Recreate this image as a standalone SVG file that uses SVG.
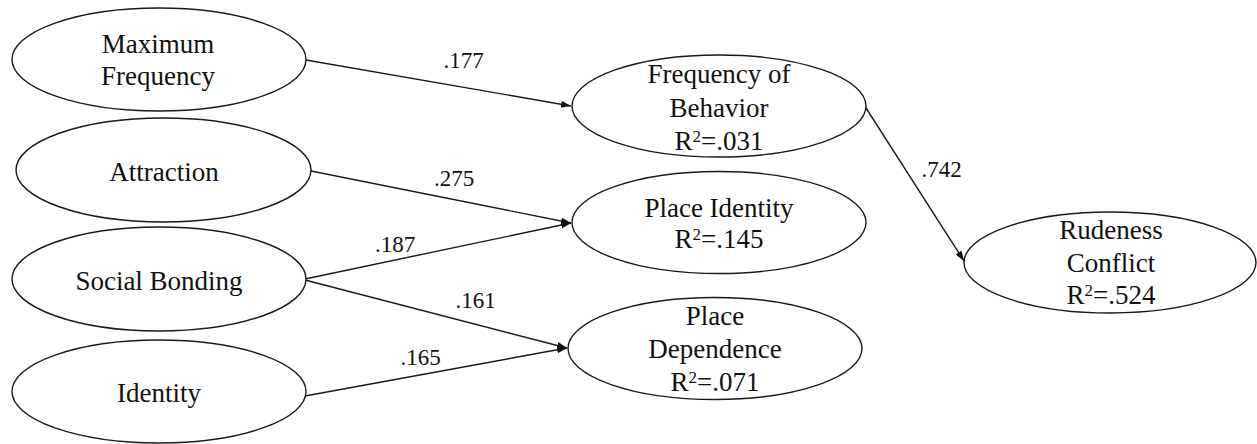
<svg xmlns="http://www.w3.org/2000/svg" width="1257" height="444" viewBox="0 0 1257 444">
<style>
.node ellipse{fill:#fff;stroke:#1a1a1a;stroke-width:1.4}
.node text{font-family:"Liberation Serif","Times New Roman",serif;font-size:27px;fill:#111;text-anchor:middle}
.sup{font-size:17px}
#connectors line{stroke:#1a1a1a;stroke-width:1.4;marker-end:url(#arr)}
.lbl{font-family:"Liberation Serif","Times New Roman",serif;font-size:23px;fill:#111;text-anchor:middle}
</style>
<defs>
<marker id="arr" markerUnits="userSpaceOnUse" markerWidth="11" markerHeight="8" refX="10" refY="3.5" orient="auto">
<path d="M0,0 L10,3.5 L0,7 z" fill="#111"/>
</marker>
</defs>
<rect width="1257" height="444" fill="#fff"/>
<g id="connectors">
<line x1="306" y1="60" x2="571" y2="106"/>
<line x1="311" y1="171" x2="571" y2="223"/>
<line x1="305" y1="279" x2="571" y2="223"/>
<line x1="305" y1="280" x2="567" y2="348"/>
<line x1="305" y1="396" x2="567" y2="348"/>
<line x1="866" y1="108" x2="964" y2="261"/>
<text class="lbl" x="463.5" y="68">.177</text>
<text class="lbl" x="454" y="186">.275</text>
<text class="lbl" x="395" y="252">.187</text>
<text class="lbl" x="475.5" y="308">.161</text>
<text class="lbl" x="420.5" y="365">.165</text>
<text class="lbl" x="941.5" y="177">.742</text>
</g>
<g id="max-frequency" class="node">
<ellipse cx="159" cy="59.5" rx="147" ry="51.5"/>
<text x="158" y="53">Maximum</text>
<text x="158" y="85">Frequency</text>
</g>
<g id="attraction" class="node">
<ellipse cx="163.5" cy="170" rx="147.5" ry="52"/>
<text x="164" y="181">Attraction</text>
</g>
<g id="social-bonding" class="node">
<ellipse cx="159" cy="279" rx="147" ry="52"/>
<text x="159" y="290">Social Bonding</text>
</g>
<g id="identity" class="node">
<ellipse cx="159" cy="391.5" rx="147" ry="51.5"/>
<text x="159" y="402">Identity</text>
</g>
<g id="frequency-of-behavior" class="node">
<ellipse cx="719" cy="106" rx="147" ry="51"/>
<text x="719" y="83">Frequency of</text>
<text x="719" y="117">Behavior</text>
<text x="719" y="150">R<tspan class="sup" dy="-8">2</tspan><tspan dy="8">=.031</tspan></text>
</g>
<g id="place-identity" class="node">
<ellipse cx="719" cy="222.5" rx="147" ry="51"/>
<text x="719" y="217">Place Identity</text>
<text x="719" y="248">R<tspan class="sup" dy="-8">2</tspan><tspan dy="8">=.145</tspan></text>
</g>
<g id="place-dependence" class="node">
<ellipse cx="715" cy="348.5" rx="147" ry="51"/>
<text x="715" y="325">Place</text>
<text x="715" y="358">Dependence</text>
<text x="715" y="391">R<tspan class="sup" dy="-8">2</tspan><tspan dy="8">=.071</tspan></text>
</g>
<g id="rudeness-conflict" class="node">
<ellipse cx="1110" cy="262.5" rx="146" ry="50.5"/>
<text x="1111" y="239">Rudeness</text>
<text x="1111" y="272">Conflict</text>
<text x="1111" y="304">R<tspan class="sup" dy="-8">2</tspan><tspan dy="8">=.524</tspan></text>
</g>
</svg>
